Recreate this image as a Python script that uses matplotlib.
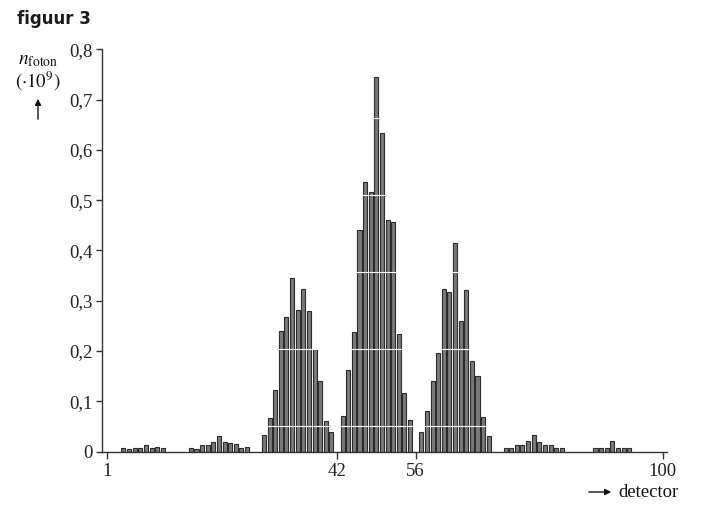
import matplotlib
matplotlib.use("Agg")
import matplotlib.pyplot as plt
import numpy as np

# ---- data ----
# each group: first detector number and the photon counts (x 10^9) of consecutive detectors
group_a_start = 4
group_a = [0.0066, 0.0046, 0.0066, 0.0066, 0.0133, 0.006, 0.0086, 0.006]
group_b_start = 16
group_b = [0.0073, 0.0046, 0.012, 0.012, 0.019, 0.030, 0.018, 0.0165, 0.014, 0.0066, 0.008]
peak_1_start = 29
peak_1 = [0.033, 0.066, 0.122, 0.240, 0.267, 0.346, 0.281, 0.324, 0.280, 0.203, 0.141, 0.061, 0.039]
peak_2_start = 43
peak_2 = [0.071, 0.162, 0.237, 0.440, 0.536, 0.516, 0.745, 0.634, 0.460, 0.456, 0.234, 0.117, 0.062]
peak_3_start = 57
peak_3 = [0.039, 0.080, 0.141, 0.196, 0.324, 0.318, 0.415, 0.260, 0.322, 0.180, 0.151, 0.069, 0.031]
group_c_start = 72
group_c = [0.0066, 0.0066, 0.0126, 0.0126, 0.0205, 0.032, 0.019, 0.013, 0.013, 0.0066, 0.0066]
group_d_start = 88
group_d = [0.006, 0.006, 0.0073, 0.021, 0.0066, 0.0066, 0.0073]

x_ticks = [1, 42, 56, 100]
x_tick_labels = ["1", "42", "56", "100"]
y_ticks = [0, 0.1, 0.2, 0.3, 0.4, 0.5, 0.6, 0.7, 0.8]
y_tick_labels = ["0", "0,1", "0,2", "0,3", "0,4", "0,5", "0,6", "0,7", "0,8"]
# faint white scan lines that cross the bars in the reference
scan_line_levels = [0.051, 0.204, 0.357, 0.510, 0.663]

groups = [(group_a_start, group_a), (group_b_start, group_b), (peak_1_start, peak_1),
          (peak_2_start, peak_2), (peak_3_start, peak_3), (group_c_start, group_c),
          (group_d_start, group_d)]
detectors = []
counts = []
for start, vals in groups:
    for k, v in enumerate(vals):
        detectors.append(start + k)
        counts.append(v)

# ---- figure ----
plt.rcParams['mathtext.fontset'] = 'stix'
W, H = 705, 507
fig = plt.figure(figsize=(W / 100, H / 100), dpi=100)
ax_left, ax_right, ax_bottom, ax_top = 102, 666.7, 451.5, 49.3
ax = fig.add_axes([ax_left / W, 1 - ax_bottom / H, (ax_right - ax_left) / W, (ax_bottom - ax_top) / H])

ax.bar(detectors, counts, width=0.72, color='#7a7a7a', edgecolor='#2b2b2b',
       linewidth=0.8, zorder=2)
ax.hlines(scan_line_levels, 1, 99, colors='white', linewidth=0.8, zorder=3)

ax.set_xlim(0.18, 100.67)
ax.set_ylim(0, 0.8)

for s in ['top', 'right']:
    ax.spines[s].set_visible(False)
for s in ['left', 'bottom']:
    ax.spines[s].set_color('#333333')
    ax.spines[s].set_linewidth(1.0)
    ax.spines[s].set_zorder(4)

serif = 'Liberation Serif'
ax.set_xticks(x_ticks)
ax.set_xticklabels(x_tick_labels, family=serif, fontsize=13.5, color='#222222')
ax.set_yticks(y_ticks)
ax.set_yticklabels(y_tick_labels, family=serif, fontsize=13.5, color='#222222')
ax.tick_params(axis='x', direction='out', length=5, width=1.0, color='#333333', pad=3)
ax.tick_params(axis='y', direction='out', length=4, width=1.0, color='#333333', pad=3)

# title
fig.text(17 / W, 1 - 10 / H, "figuur 3", family='DejaVu Sans', fontweight='bold',
         fontsize=12, color='#1a1a1a', ha='left', va='top')

# y label
fig.text(38 / W, 1 - 64 / H, r"$n_{\mathrm{foton}}$", fontsize=14, color='#111111',
         ha='center', va='baseline')
fig.text(38 / W, 1 - 88 / H, r"$(\cdot 10^{9})$", fontsize=13.5, color='#111111',
         ha='center', va='baseline')
fig.add_artist(matplotlib.patches.FancyArrowPatch(
    (38 / W, 1 - 122 / H), (38 / W, 1 - 96 / H), transform=fig.transFigure,
    arrowstyle='-|>', mutation_scale=9, linewidth=1.0, color='#111111'))

# x label
fig.add_artist(matplotlib.patches.FancyArrowPatch(
    (586 / W, 1 - 492 / H), (614 / W, 1 - 492 / H), transform=fig.transFigure,
    arrowstyle='-|>', mutation_scale=9, linewidth=1.0, color='#111111'))
fig.text(618 / W, 1 - 497 / H, "detector", family=serif, fontsize=13.5,
         color='#111111', ha='left', va='baseline')

fig.savefig("out.png", dpi=100)
